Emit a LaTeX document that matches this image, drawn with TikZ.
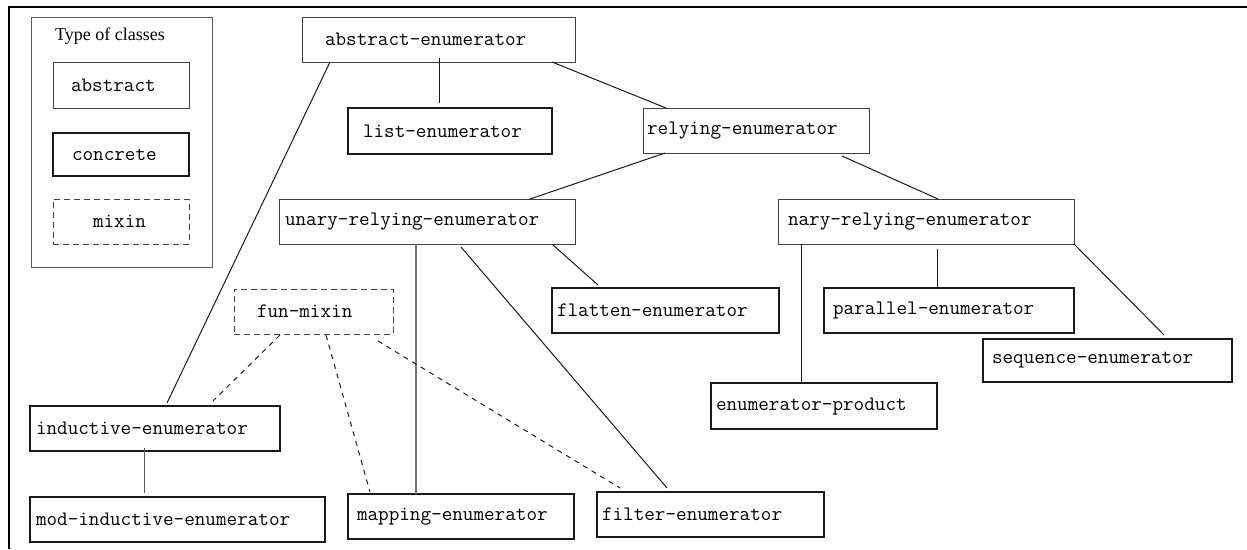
\documentclass[tikz,border=0pt]{standalone}
\usepackage{fontspec}
\setmainfont{Liberation Serif}
\newcommand\boxfont{\ttfamily\fontsize{20.57pt}{22pt}\selectfont}
\newcommand\titlefont{\rmfamily\fontsize{18pt}{20pt}\selectfont}
\tikzset{
  cls/.style={anchor=north west, outer sep=0pt, inner ysep=0pt, align=left, font=\boxfont},
  abs/.style={cls, draw=black!75, line width=1pt},
  con/.style={cls, draw=black!90, line width=2pt},
  mix/.style={cls, draw=black!75, line width=1pt, dash pattern=on 6pt off 4pt},
  link/.style={draw=black!90, line width=1pt},
  glink/.style={draw=black!55, line width=1.8pt},
  mlink/.style={draw=black!90, line width=1pt, dash pattern=on 5pt off 5pt},
}
\begin{document}
\begin{tikzpicture}[x=1pt,y=1pt]
\useasboundingbox (0,0) rectangle (1247,-549);
% frame
\draw[line width=2.5pt] (9,-549) -- (9,-7) -- (1247,-7);

% legend
\node[anchor=north west, outer sep=0pt, draw=black!65, line width=1pt, minimum width=181pt, minimum height=250pt, inner sep=0pt] (legend) at (31,-17) {};
\node[font=\titlefont] (title) at (110,-36) {Type of classes};
\node[abs, minimum height=46pt, inner xsep=18pt, text width=100pt] (labs) at (53,-62) {abstract};
\node[con, minimum height=43pt, inner xsep=19pt, text width=98pt] (lcon) at (53,-133) {concrete};
\node[mix, minimum height=45pt, inner xsep=40pt, text width=56pt] (lmix) at (53,-199) {mixin};

% classes
\node[abs, minimum height=45pt, inner xsep=23pt, text width=227pt] (absenum) at (302,-17) {abstract-enumerator};
\node[con, minimum height=46pt, inner xsep=15pt, text width=174pt] (listenum) at (348,-108) {list-enumerator};
\node[abs, minimum height=45pt, inner xsep=4pt, text width=218pt] (relying) at (643,-108) {relying-enumerator};
\node[abs, minimum height=45pt, inner xsep=6pt, text width=284pt] (unary) at (279,-199) {unary-relying-enumerator};
\node[abs, minimum height=45pt, inner xsep=10pt, text width=276pt] (nary) at (778,-199) {nary-relying-enumerator};
\node[con, minimum height=45pt, inner xsep=9pt, text width=232pt] (parallel) at (824,-288) {parallel-enumerator};
\node[con, minimum height=46pt, inner xsep=5pt, text width=216pt] (product) at (711,-383) {enumerator-product};
\node[con, minimum height=43pt, inner xsep=9pt, text width=231pt] (sequence) at (983,-339) {sequence-enumerator};
\node[con, minimum height=45pt, inner xsep=5pt, text width=217pt] (flatten) at (552,-288) {flatten-enumerator};
\node[mix, minimum height=45pt, inner xsep=23pt, text width=113pt] (funmixin) at (234,-289) {fun-mixin};
\node[con, minimum height=45pt, inner xsep=6pt, text width=238pt] (inductive) at (30,-406) {inductive-enumerator};
\node[con, minimum height=45pt, inner xsep=6pt, text width=283pt] (modind) at (30,-497) {mod-inductive-enumerator};
\node[con, minimum height=45pt, inner xsep=9pt, text width=208pt] (mapping) at (348,-494) {mapping-enumerator};
\node[con, minimum height=45pt, inner xsep=5pt, text width=217pt] (filter) at (597,-492) {filter-enumerator};

% inheritance links
\draw[link] ([xshift=137pt,yshift=4pt]absenum.south west) -- ([xshift=91pt,yshift=5pt]listenum.north west);
\draw[link] ([xshift=250pt]absenum.south west) -- ([xshift=23pt]relying.north west);
\draw[link] ([xshift=28pt]absenum.south west) -- ([xshift=137pt,yshift=3pt]inductive.north west);
\draw[link] ([xshift=22pt]relying.south west) -- ([xshift=251pt]unary.north west);
\draw[link] ([xshift=199pt,yshift=-3pt]relying.south west) -- ([xshift=160pt]nary.north west);
\draw[glink] ([xshift=137pt]unary.south west) -- ([xshift=68pt]mapping.north west);
\draw[link] ([xshift=182pt,yshift=-3pt]unary.south west) -- ([xshift=70pt,yshift=4pt]filter.north west);
\draw[link] ([xshift=274pt,yshift=-1pt]unary.south west) -- ([xshift=46pt,yshift=3pt]flatten.north west);
\draw[link] ([xshift=23pt]nary.south west) -- ([xshift=90pt]product.north west);
\draw[link] ([xshift=159pt,yshift=-5pt]nary.south west) -- ([xshift=113pt]parallel.north west);
\draw[link] (nary.south east) -- ([xshift=181pt,yshift=4pt]sequence.north west);
\draw[link, draw=black!65] ([xshift=114pt,yshift=3pt]inductive.south west) -- ([xshift=114pt,yshift=4pt]modind.north west);

% mixin links
\draw[mlink] ([xshift=46pt,yshift=-1pt]funmixin.south west) -- ([xshift=183pt,yshift=5pt]inductive.north west);
\draw[mlink] ([xshift=92pt,yshift=-1pt]funmixin.south west) -- ([xshift=22pt,yshift=2pt]mapping.north west);
\draw[mlink] ([xshift=144pt,yshift=-7pt]funmixin.south west) -- ([xshift=23pt,yshift=4pt]filter.north west);
\end{tikzpicture}
\end{document}
